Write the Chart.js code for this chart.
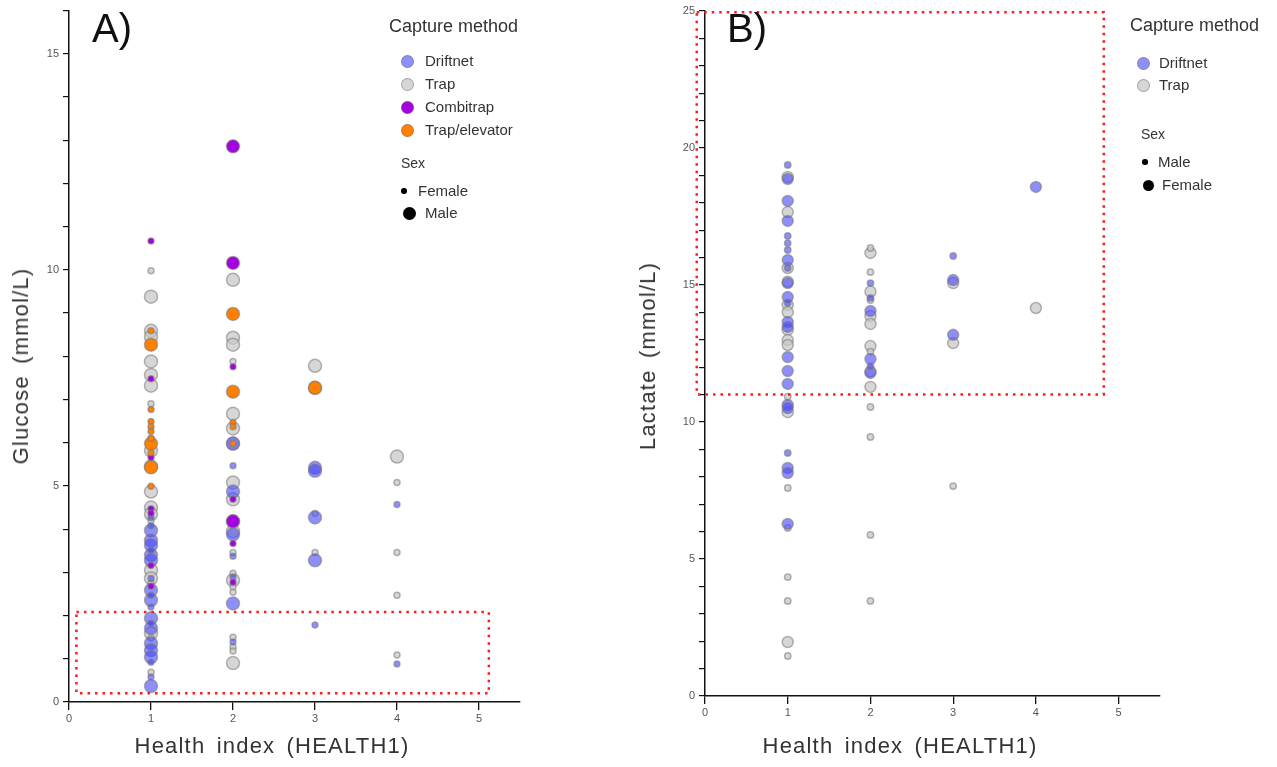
<!DOCTYPE html>
<html>
<head>
<meta charset="utf-8">
<script src="https://cdn.jsdelivr.net/npm/chart.js@4.4.1/dist/chart.umd.min.js"></script>
<style>
    body { margin: 0; background: #fff; width: 1277px; height: 767px; overflow: hidden; position: relative;
           font-family: 'Liberation Sans', Arial, sans-serif; color: #333; }
    canvas { position: absolute; top: 0; }
    #chartA { left: 0; }
    #chartB { left: 630px; }
    .panel { position: absolute; font-size: 40px; line-height: 40px; color: #111; }
    .title { position: absolute; font-size: 22px; line-height: 22px; white-space: nowrap; color: #333;
             letter-spacing: 1.2px; word-spacing: 4px; transform: translate(-50%, -50%); }
    .title.rot { transform: translate(-50%, -50%) rotate(-90deg); }
    .leg { position: absolute; white-space: nowrap; line-height: 1; }
    .dot { position: absolute; border-radius: 50%; box-sizing: border-box; }
</style>
</head>
<body>
<canvas id="chartA" width="560" height="767"></canvas>
<canvas id="chartB" width="560" height="767"></canvas>

<div class="panel" style="left:92px; top:8px;">A)</div>
<div class="panel" style="left:727px; top:8px;">B)</div>

<div class="title rot" style="left:21px; top:366px;">Glucose (mmol/L)</div>
<div class="title" style="left:272px; top:746px;">Health index (HEALTH1)</div>
<div class="title rot" style="left:648px; top:356px;">Lactate (mmol/L)</div>
<div class="title" style="left:900px; top:746px;">Health index (HEALTH1)</div>

<div id="legendA"></div>
<div id="legendB"></div>

<script>
// Panel A: glucose, point size = sex (small = female, big = male)
const healthTicks = [0, 1, 2, 3, 4, 5];

const glucoseDriftnetMale = [[1,3.97],[1,3.74],[1,3.63],[1,3.40],[1,3.28],[1,2.59],[1,2.36],[1,1.94],[1,1.71],
    [1,1.36],[1,1.20],[1,1.04],[1,0.37],[2,5.98],[2,4.87],[2,3.88],[2,2.28],[3,5.42],[3,5.35],[3,4.27],[3,3.28]];
const glucoseDriftnetFemale = [[1,4.27],[1,4.08],[1,3.51],[1,2.86],[1,2.47],[1,2.20],[1,1.82],[1,0.92],[1,0.58],
    [2,5.47],[2,3.37],[2,2.89],[2,1.39],[3,1.78],[4,4.57],[4,0.88]];
const glucoseTrapMale = [[1,9.38],[1,8.59],[1,8.45],[1,7.88],[1,7.57],[1,7.32],[1,5.82],[1,5.45],[1,4.87],[1,4.50],
    [1,4.35],[1,3.05],[1,2.86],[1,1.59],[2,9.77],[2,8.43],[2,8.27],[2,6.67],[2,6.33],[2,5.98],[2,5.08],[2,4.69],
    [2,4.18],[2,3.95],[2,2.82],[2,0.90],[3,7.78],[3,7.27],[4,5.68]];
const glucoseTrapFemale = [[1,9.98],[1,6.90],[1,6.10],[1,4.20],[1,2.75],[1,1.48],[1,0.69],[2,7.88],[2,3.46],[2,2.98],
    [2,2.66],[2,2.54],[2,1.50],[2,1.27],[2,1.18],[3,4.36],[3,3.46],[4,5.08],[4,3.46],[4,2.47],[4,1.09]];
const glucoseCombitrapMale = [[2,12.86],[2,10.16],[2,4.18]];
const glucoseCombitrapFemale = [[1,10.67],[1,7.48],[1,5.66],[1,4.47],[1,4.37],[1,3.16],[1,2.68],
    [2,7.76],[2,4.69],[2,3.67],[2,2.77]];
const glucoseElevatorMale = [[1,8.27],[1,5.98],[1,5.43],[2,8.98],[2,7.18],[3,7.27]];
const glucoseElevatorFemale = [[1,8.59],[1,6.77],[1,6.49],[1,6.37],[1,6.26],[1,6.10],[1,5.77],[1,4.99],
    [2,6.47],[2,6.37],[2,5.98]];
const glucoseBox = [0.09, 5.12, 0.2, 2.08]; // xMin, xMax, yMin, yMax

// Panel B: lactate, point size = sex (small = male, big = female)
const lactateDriftnetFemale = [[1,18.87],[1,18.07],[1,17.34],[1,15.91],[1,15.07],[1,14.56],[1,13.65],[1,13.47],
    [1,12.37],[1,11.86],[1,11.39],[1,10.62],[1,10.51],[1,8.32],[1,8.14],[1,6.28],[2,14.05],[2,12.30],[2,11.79],
    [3,15.18],[3,13.18],[4,18.58]];
const lactateDriftnetMale = [[1,19.38],[1,16.79],[1,16.53],[1,16.28],[1,15.62],[1,14.34],[1,8.87],
    [2,15.07],[2,14.53],[2,12.04],[3,16.06]];
const lactateTrapFemale = [[1,18.94],[1,17.66],[1,15.62],[1,15.12],[1,14.27],[1,14.01],[1,13.36],[1,12.99],
    [1,12.81],[1,10.36],[1,1.97],[2,16.17],[2,14.76],[2,13.87],[2,13.58],[2,12.77],[2,11.85],[2,11.28],
    [3,15.07],[3,12.88],[4,14.16]];
const lactateTrapMale = [[1,10.92],[1,7.59],[1,6.13],[1,4.34],[1,3.47],[1,1.46],[2,16.35],[2,15.47],[2,14.45],
    [2,12.57],[2,10.55],[2,9.45],[2,5.88],[2,3.47],[3,7.66]];
const lactateBox = [-0.1, 4.82, 11.0, 24.95];

const colDriftnet = 'rgba(75,75,250,0.62)';
const colTrap = 'rgba(200,200,200,0.75)';
const colCombitrap = 'rgb(165,0,225)';
const colElevator = 'rgb(255,128,0)';
const colRing = 'rgba(120,120,120,0.55)';

// big points first so the small ones stay visible on top
function makeDataset(label, big, small, bigR, smallR, fill) {
    const pts = big.concat(small).map(p => ({ x: p[0], y: p[1] }));
    const radius = big.map(() => bigR).concat(small.map(() => smallR));
    return {
        label: label,
        data: pts,
        pointRadius: radius,
        pointHoverRadius: radius,
        backgroundColor: fill,
        borderColor: colRing,
        borderWidth: 1.5,
        clip: false
    };
}

const dottedBox = {
    id: 'dottedBox',
    afterDatasetsDraw(chart, args, opts) {
        const b = opts.box;
        if (!b) return;
        const { x, y } = chart.scales;
        const ctx = chart.ctx;
        ctx.save();
        ctx.strokeStyle = '#ff1a1a';
        ctx.lineWidth = 2.5;
        ctx.setLineDash([2.5, 5]);
        const x0 = x.getPixelForValue(b[0]), x1 = x.getPixelForValue(b[1]);
        const y0 = y.getPixelForValue(b[2]), y1 = y.getPixelForValue(b[3]);
        ctx.strokeRect(x0, y1, x1 - x0, y0 - y1);
        ctx.restore();
    }
};

function makeOptions(yMax, padTop, padRight, yWidth, xHeight, box) {
    const tickFont = { family: 'Liberation Sans', size: 11 };
    return {
        responsive: false,
        animation: false,
        devicePixelRatio: 1,
        layout: { padding: { top: padTop, right: padRight, left: 0, bottom: 0 } },
        plugins: {
            legend: { display: false },
            tooltip: { enabled: false },
            dottedBox: { box: box }
        },
        scales: {
            x: {
                type: 'linear', min: 0, max: 5.5,
                afterFit: s => { s.height = xHeight; },
                afterBuildTicks: s => { s.ticks = healthTicks.map(v => ({ value: v })); },
                ticks: { stepSize: 1, includeBounds: false, padding: 2, color: '#555', font: tickFont },
                grid: { drawOnChartArea: false, drawTicks: true, tickLength: 8, color: '#111', lineWidth: 1.3 },
                border: { display: true, color: '#111', width: 1.5 }
            },
            y: {
                type: 'linear', min: 0, max: yMax,
                afterFit: s => { s.width = yWidth; },
                ticks: {
                    stepSize: 1, padding: 4, color: '#555', font: tickFont,
                    callback: v => (v % 5 === 0 ? v : '')
                },
                grid: { drawOnChartArea: false, drawTicks: true, tickLength: 6, color: '#111', lineWidth: 1.2 },
                border: { display: true, color: '#111', width: 1.5 }
            }
        }
    };
}

// Chart.js paints dataset 0 last, so the trap (grey) layer goes at the end
new Chart(document.getElementById('chartA'), {
    type: 'scatter',
    data: {
        datasets: [
            makeDataset('Trap/elevator', glucoseElevatorMale, glucoseElevatorFemale, 6.5, 3, colElevator),
            makeDataset('Combitrap', glucoseCombitrapMale, glucoseCombitrapFemale, 6.5, 3, colCombitrap),
            makeDataset('Driftnet', glucoseDriftnetMale, glucoseDriftnetFemale, 6.5, 3, colDriftnet),
            makeDataset('Trap', glucoseTrapMale, glucoseTrapFemale, 6.5, 3, colTrap)
        ]
    },
    options: makeOptions(16, 10, 40, 69, 65, glucoseBox),
    plugins: [dottedBox]
});

new Chart(document.getElementById('chartB'), {
    type: 'scatter',
    data: {
        datasets: [
            makeDataset('Driftnet', lactateDriftnetFemale, lactateDriftnetMale, 5.5, 3.2, colDriftnet),
            makeDataset('Trap', lactateTrapFemale, lactateTrapMale, 5.5, 3.2, colTrap)
        ]
    },
    options: makeOptions(25, 11, 30, 75, 71, lactateBox),
    plugins: [dottedBox]
});

// legends (html)
function addText(parent, text, x, cy, size) {
    const el = document.createElement('div');
    el.className = 'leg';
    el.textContent = text;
    el.style.left = x + 'px';
    el.style.top = (cy - size * 0.55) + 'px';
    el.style.fontSize = size + 'px';
    parent.appendChild(el);
}
function addDot(parent, cx, cy, r, fill, ring) {
    const el = document.createElement('div');
    el.className = 'dot';
    el.style.left = (cx - r) + 'px';
    el.style.top = (cy - r) + 'px';
    el.style.width = el.style.height = (2 * r) + 'px';
    el.style.background = fill;
    if (ring) el.style.border = '1.5px solid ' + ring;
    parent.appendChild(el);
}

const legA = document.getElementById('legendA');
addText(legA, 'Capture method', 389, 27, 18);
[['Driftnet', colDriftnet, 61], ['Trap', colTrap, 84], ['Combitrap', colCombitrap, 107], ['Trap/elevator', colElevator, 130]]
    .forEach(it => { addDot(legA, 407, it[2], 6.5, it[1], colRing); addText(legA, it[0], 425, it[2], 15); });
addText(legA, 'Sex', 401, 164, 14);
addDot(legA, 404, 191, 2.8, '#000');
addText(legA, 'Female', 418, 191, 15);
addDot(legA, 409, 213, 6.5, '#000');
addText(legA, 'Male', 425, 213, 15);

const legB = document.getElementById('legendB');
addText(legB, 'Capture method', 1130, 26, 18);
[['Driftnet', colDriftnet, 63], ['Trap', colTrap, 85]]
    .forEach(it => { addDot(legB, 1143, it[2], 6.5, it[1], colRing); addText(legB, it[0], 1159, it[2], 15); });
addText(legB, 'Sex', 1141, 135, 14);
addDot(legB, 1145, 162, 2.8, '#000');
addText(legB, 'Male', 1158, 162, 15);
addDot(legB, 1148, 185, 5.5, '#000');
addText(legB, 'Female', 1162, 185, 15);
</script>
</body>
</html>
